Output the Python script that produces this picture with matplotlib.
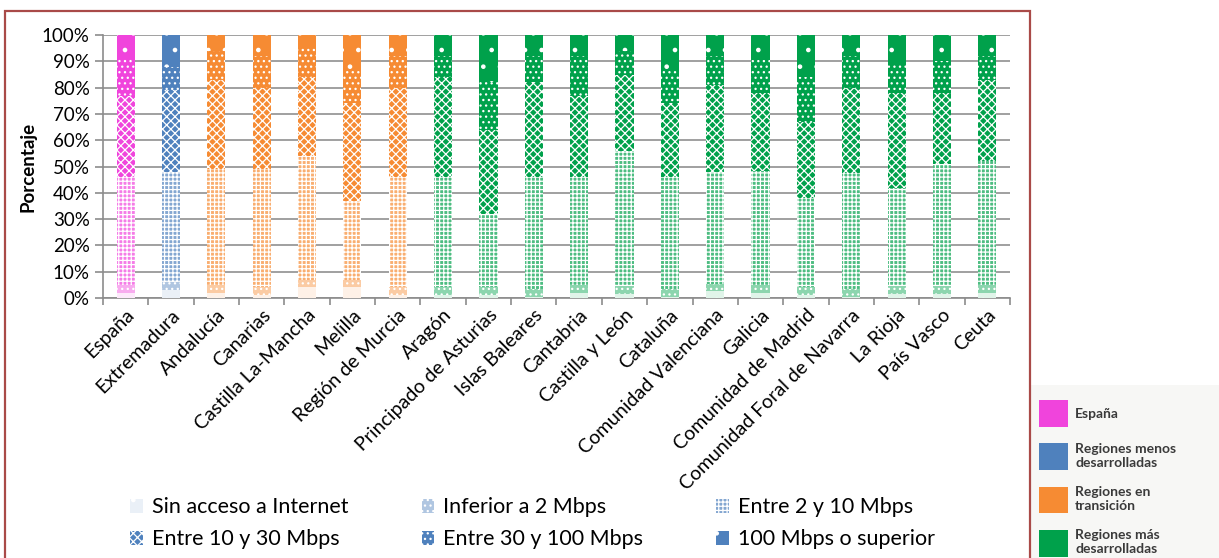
import numpy as np
import matplotlib
matplotlib.use('Agg')
import matplotlib.pyplot as plt
from matplotlib.patches import Patch, Rectangle
from matplotlib.colors import to_rgb

plt.rcParams['font.family'] = ['Lato', 'DejaVu Sans']
plt.rcParams['hatch.linewidth'] = 0.9

# datos (porcentaje de hogares por velocidad de acceso)
regiones = ['España', 'Extremadura', 'Andalucía', 'Canarias', 'Castilla La-Mancha',
            'Melilla', 'Región de Murcia', 'Aragón', 'Principado de Asturias',
            'Islas Baleares', 'Cantabria', 'Castilla y León', 'Cataluña',
            'Comunidad Valenciana', 'Galicia', 'Comunidad de Madrid',
            'Comunidad Foral de Navarra', 'La Rioja', 'País Vasco', 'Ceuta']
grupo = ['es', 'menos', 'trans', 'trans', 'trans', 'trans', 'trans',
         'mas', 'mas', 'mas', 'mas', 'mas', 'mas', 'mas', 'mas', 'mas', 'mas', 'mas', 'mas', 'mas']

sin_acceso = [2, 3, 2, 1, 4, 4, 1, 1, 1, 0.5, 2, 1.5, 0.5, 2.5, 2, 1, 0.5, 1.5, 1.5, 2]
inferior_2 = [3, 3, 3, 3, 3, 3, 3, 3, 3, 3, 3, 3, 3, 3, 3, 3, 3, 3, 3, 3]
entre_2_10 = [41, 42, 44, 45, 47, 30, 42, 42, 28, 42.5, 41, 51.5, 42.5, 42.5, 43.5, 34, 44, 37.5, 46.5, 47]
entre_10_30 = [31, 31, 34, 31, 30, 37, 34, 38, 32, 36, 31, 29, 28, 33, 29.5, 29, 32.5, 36, 27, 31]
entre_30_100 = [14, 9, 11, 12, 12, 13, 12, 8, 18, 10, 15, 9, 13, 11, 12.5, 17, 12, 11, 12, 9]
mas_100 = [9, 12, 6, 8, 4, 13, 8, 8, 18, 8, 8, 6, 13, 8, 9.5, 16, 8, 11, 10, 8]

series = [sin_acceso, inferior_2, entre_2_10, entre_10_30, entre_30_100, mas_100]
nombres = ['Sin acceso a Internet', 'Inferior a 2 Mbps', 'Entre 2 y 10 Mbps',
           'Entre 10 y 30 Mbps', 'Entre 30 y 100 Mbps', '100 Mbps o superior']

colores_grupo = {'es': '#F044DC', 'menos': '#4F81BD', 'trans': '#F68B33', 'mas': '#00A14B'}
nombres_grupo = ['España', 'Regiones menos\ndesarrolladas', 'Regiones en\ntransición',
                 'Regiones más\ndesarrolladas']

# estilo de cada tramo: (mezcla con blanco, trama)
estilos = [(0.12, '.'), (0.45, '...'), (0.7, '++++'), (1.0, 'xxxx'), (1.0, '...'), (1.0, '.')]


def mezcla(c, f):
    r = np.array(to_rgb(c))
    return tuple(1 - f * (1 - r))


fig = plt.figure(figsize=(12.19, 5.58), dpi=100)
ax = fig.add_axes([0.0845, 0.466, 0.744, 0.471])

x = np.arange(len(regiones))
abajo = np.zeros(len(regiones))
for vals, (f, trama) in zip(series, estilos):
    vals = np.array(vals, dtype=float)
    caras = [mezcla(colores_grupo[g], f) for g in grupo]
    ax.bar(x, vals / 100, 0.40, bottom=abajo / 100, color=caras, edgecolor='white',
           hatch=trama, linewidth=0, zorder=3)
    abajo += vals

ax.set_xlim(-0.5, len(regiones) - 0.5)
ax.set_ylim(0, 1)
ax.set_yticks(np.arange(0, 1.01, 0.1))
ax.set_yticklabels(['%d%%' % v for v in range(0, 101, 10)], fontsize=13.5)
ax.yaxis.grid(True, color='#A0A0A0', linewidth=1.4, zorder=0)
ax.set_axisbelow(True)
ax.set_ylabel('Porcentaje', fontsize=13.5, fontweight='bold', labelpad=4)

ax.set_xticks(x)
ax.set_xticklabels(regiones, rotation=45, ha='right', rotation_mode='anchor', fontsize=14)
ax.tick_params(axis='x', which='major', length=0, pad=6)
ax.set_xticks(np.arange(-0.5, len(regiones), 1), minor=True)
ax.tick_params(axis='x', which='minor', length=5, color='#8C8C8C', width=1.2)
ax.tick_params(axis='y', length=6, color='#8C8C8C', width=1.2)

for s in ['top', 'right']:
    ax.spines[s].set_visible(False)
for s in ['left', 'bottom']:
    ax.spines[s].set_color('#8C8C8C')
    ax.spines[s].set_linewidth(1.2)

# leyenda de velocidades (en azul)
azul = colores_grupo['menos']
handles = [Patch(facecolor=mezcla(azul, f), edgecolor='white', hatch=t, linewidth=0)
           for f, t in estilos]
orden = [0, 3, 1, 4, 2, 5]
fig.legend([handles[i] for i in orden], [nombres[i] for i in orden], ncol=3,
           loc='center left', bbox_to_anchor=(0.091, 0.062), frameon=False,
           fontsize=15.5, handlelength=0.6, handleheight=0.6, handletextpad=0.4,
           columnspacing=3.4, labelspacing=0.55)

# marco rojo del gráfico
fig.patches.append(Rectangle((0.004, -0.01), 0.841, 0.99, transform=fig.transFigure,
                             fill=False, edgecolor='#A94A48', linewidth=1.6))

# leyenda de tipos de región
fig.patches.append(Rectangle((0.846, 0.0), 0.154, 0.31, transform=fig.transFigure,
                             facecolor='#F7F7F5', edgecolor='none', zorder=0))
handles2 = [Patch(facecolor=colores_grupo[g], edgecolor='none')
            for g in ['es', 'menos', 'trans', 'mas']]
fig.legend(handles2, nombres_grupo, loc='lower left', bbox_to_anchor=(0.842, -0.02),
           frameon=False, prop={'size': 10, 'weight': 'bold'}, handlelength=2.1,
           handleheight=2.6, handletextpad=0.5, labelspacing=1.15, labelcolor='#3A3A3A')

fig.savefig('out.png', dpi=100)
